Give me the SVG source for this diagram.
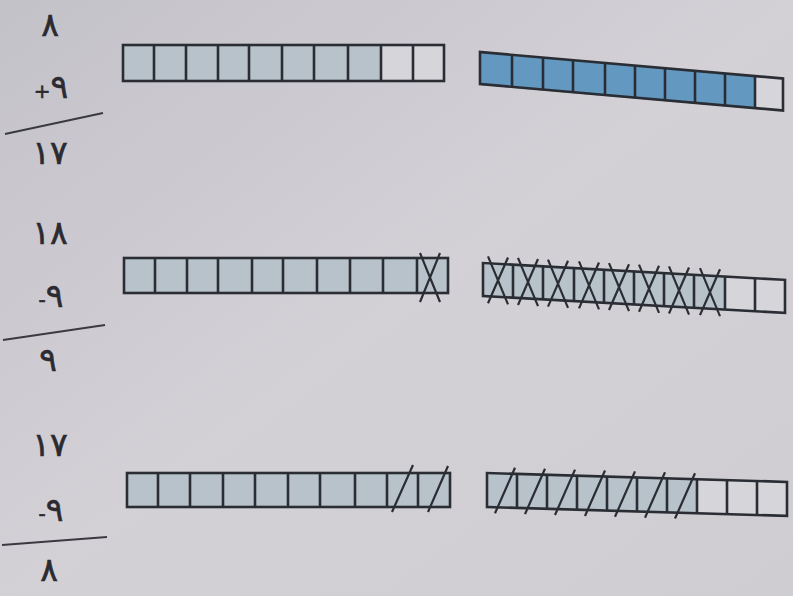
<svg xmlns="http://www.w3.org/2000/svg" width="793" height="596" viewBox="0 0 793 596">
<defs>
<linearGradient id="bg" x1="0" y1="0" x2="1" y2="1">
<stop offset="0" stop-color="#c4c2c9"/>
<stop offset="0.5" stop-color="#d3d1d6"/>
<stop offset="1" stop-color="#cfcdd2"/>
</linearGradient>
</defs>
<style>
.num{font-family:"DejaVu Sans",sans-serif;font-size:33px;fill:#2b2a30;stroke:#2b2a30;stroke-width:0.6;text-anchor:middle}
.sm{font-size:20px}
.rule{stroke:#3a3a40;stroke-width:2;fill:none}
.frame{fill:none;stroke:#2a2e34;stroke-width:2.6}
.div{stroke:#2a2e34;stroke-width:2.6}
.lt{fill:#b8c2cb}
.bl{fill:#6399c0}
.wh{fill:#d6d5da}
.mark{stroke:#2a2e34;stroke-width:2.2;fill:none}
</style>
<rect width="793" height="596" fill="url(#bg)"/>

<g id="problem1">
<text class="num" x="50" y="36">٨</text>
<text class="num" x="51" y="98"><tspan class="sm">+</tspan>٩</text>
<line class="rule" x1="5" y1="134" x2="103" y2="113"/>
<text class="num" x="50" y="164">١٧</text>
</g>
<g id="problem2">
<text class="num" x="50" y="244">١٨</text>
<text class="num" x="51" y="307"><tspan class="sm">-</tspan>٩</text>
<line class="rule" x1="3" y1="340" x2="105" y2="325"/>
<text class="num" x="48" y="371">٩</text>
</g>
<g id="problem3">
<text class="num" x="50" y="456">١٧</text>
<text class="num" x="51" y="521"><tspan class="sm">-</tspan>٩</text>
<line class="rule" x1="2" y1="545" x2="107" y2="537"/>
<text class="num" x="49" y="581">٨</text>
</g>

<!-- Row 1 left: 8 shaded, 2 white -->
<g id="strip1L" transform="translate(123,45)">
<rect class="lt" x="0" y="0" width="258" height="36"/>
<rect class="wh" x="258" y="0" width="63" height="36"/>
<rect class="frame" x="0" y="0" width="321" height="36"/>
<path class="div" d="M31 0V36M63 0V36M95 0V36M126 0V36M159 0V36M191 0V36M225 0V36M258 0V36M290 0V36"/>
</g>

<!-- Row 1 right: 9 blue, 1 white -->
<g id="strip1R" transform="translate(480,52) skewY(5)">
<rect class="bl" x="0" y="0" width="275" height="33"/>
<rect class="wh" x="275" y="0" width="28" height="31"/>
<rect class="frame" x="0" y="0" width="303" height="32"/>
<path class="div" d="M32 0V32M63 0V32M93 0V32M125 0V32M155 0V32M185 0V32M215 0V32M245 0V32M275 0V32"/>
</g>

<!-- Row 2 left: 9 shaded, last crossed -->
<g id="strip2L" transform="translate(124,258)">
<rect class="lt" x="0" y="0" width="324" height="35"/>
<rect class="frame" x="0" y="0" width="324" height="35"/>
<path class="div" d="M31 0V35M63 0V35M94 0V35M128 0V35M159 0V35M193 0V35M226 0V35M259 0V35M293 0V35"/>
<path class="mark" d="M296 -5L316 44M316 -5L296 44"/>
</g>

<!-- Row 2 right: 8 crossed, 2 empty -->
<g id="strip2R" transform="translate(483,263) skewY(3.2)">
<rect class="lt" x="0" y="0" width="242" height="34"/>
<rect class="wh" x="242" y="0" width="60" height="34"/>
<rect class="frame" x="0" y="0" width="302" height="33"/>
<path class="div" d="M30 0V33M60 0V33M91 0V33M121 0V33M151 0V33M181 0V33M211 0V33M242 0V33M272 0V33"/>
<path class="mark" d="M5 -7L25 40M25 -7L5 40M35 -7L55 40M55 -7L35 40M65 -7L85 40M85 -7L65 40M96 -7L116 40M116 -7L96 40M126 -7L146 40M146 -7L126 40M156 -7L176 40M176 -7L156 40M186 -7L206 40M206 -7L186 40M217 -7L237 40M237 -7L217 40"/>
</g>

<!-- Row 3 left: 10 shaded, last 2 slashed -->
<g id="strip3L" transform="translate(127,473)">
<rect class="lt" x="0" y="0" width="323" height="34"/>
<rect class="frame" x="0" y="0" width="323" height="34"/>
<path class="div" d="M31 0V34M63 0V34M96 0V34M128 0V34M161 0V34M193 0V34M228 0V34M260 0V34M291 0V34"/>
<path class="mark" d="M265 39L286 -8M301 39L321 -7"/>
</g>

<!-- Row 3 right: 7 slashed, 3 empty -->
<g id="strip3R" transform="translate(487,473) skewY(1.7)">
<rect class="lt" x="0" y="0" width="210" height="34"/>
<rect class="wh" x="210" y="0" width="90" height="34"/>
<rect class="frame" x="0" y="0" width="300" height="34"/>
<path class="div" d="M30 0V34M60 0V34M90 0V34M120 0V34M150 0V34M180 0V34M210 0V34M240 0V34M270 0V34"/>
<path class="mark" d="M8 40L28 -6M38 40L58 -6M68 40L88 -6M98 40L118 -6M128 40L148 -6M158 40L178 -6M188 40L208 -6"/>
</g>
</svg>
